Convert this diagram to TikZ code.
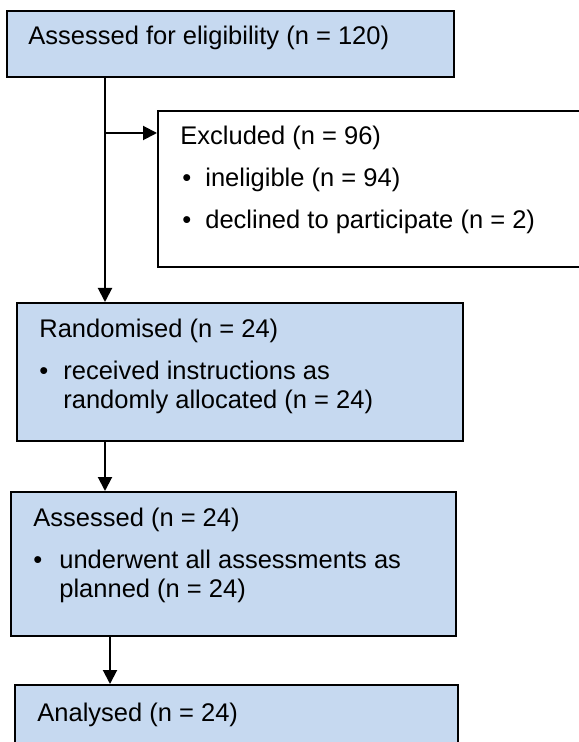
\documentclass[tikz,border=0pt]{standalone}
\usepackage{fontspec}
\setmainfont{Liberation Sans}
\usetikzlibrary{arrows.meta}

\begin{document}
\begin{tikzpicture}[
    x=0.5pt, y=-0.5pt,
    font=\fontsize{12.75}{14.5}\selectfont,
    box/.style={draw=black, line width=1pt, fill=BoxBlue, rectangle,
        anchor=north west, inner sep=0pt},
    plainbox/.style={box, fill=white},
    entry/.style={anchor=base west, inner sep=0pt},
    flow/.style={draw=black, line width=1pt, -{Triangle[length=7pt, width=7pt]}},
]
    \definecolor{BoxBlue}{RGB}{198,217,240}
    \useasboundingbox (0,0) rectangle (578,742);

    % Boxes
    \node[box, minimum width=223.5pt, minimum height=33pt] (elig) at (6,10) {};
    \node[plainbox, minimum width=220pt, minimum height=78pt] (excl) at (157,110) {};
    \node[box, minimum width=223pt, minimum height=69pt] (rand) at (16,302) {};
    \node[box, minimum width=222.5pt, minimum height=72pt] (assess) at (10,491) {};
    \node[box, minimum width=221.5pt, minimum height=50pt] (anal) at (14,684) {};

    % Texts
    \node[entry] (eligtext) at ([shift={(22,35)}]elig.north west)
        {Assessed for eligibility (n = 120)};
    \node[entry] (excltext) at ([shift={(23,35)}]excl.north west)
        {\begin{tabular}[t]{@{}l@{}}
            Excluded (n = 96)\\[6.5pt]
            \hspace{1pt}\makebox[11.5pt][l]{•}ineligible (n = 94)\\[6.5pt]
            \hspace{1pt}\makebox[11.5pt][l]{•}declined to participate (n = 2)
        \end{tabular}};
    \node[entry] (randtext) at ([shift={(23,35)}]rand.north west)
        {\begin{tabular}[t]{@{}l@{}}
            Randomised (n = 24)\\[6.5pt]
            \makebox[12pt][l]{•}received instructions as\\
            \hspace{12pt}randomly allocated (n = 24)
        \end{tabular}};
    \node[entry] (assesstext) at ([shift={(23,35)}]assess.north west)
        {\begin{tabular}[t]{@{}l@{}}
            Assessed (n = 24)\\[6.5pt]
            \makebox[13pt][l]{•}underwent all assessments as\\
            \hspace{13pt}planned (n = 24)
        \end{tabular}};
    \node[entry] (analtext) at ([shift={(23,37)}]anal.north west)
        {Analysed (n = 24)};

    % Connectors
    \coordinate (trunk) at (105,133);
    \coordinate (stem) at (110,660);
    \draw[flow] (elig.south -| trunk) -- (rand.north -| trunk);
    \draw[flow] (trunk) -- (trunk -| excl.west);
    \draw[flow] (rand.south -| trunk) -- (assess.north -| trunk);
    \draw[flow] (assess.south -| stem) -- (anal.north -| stem);
\end{tikzpicture}
\end{document}
